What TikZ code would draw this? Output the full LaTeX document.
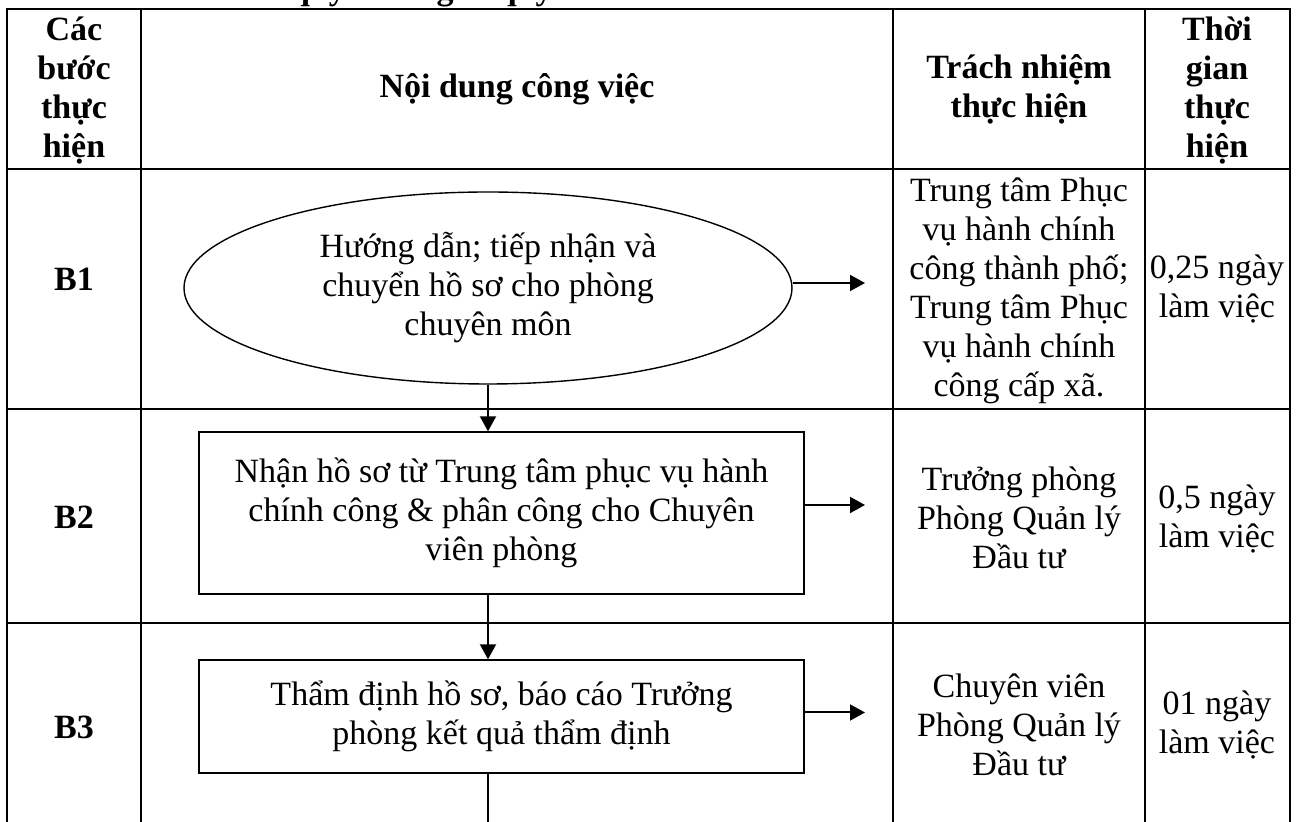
\documentclass[tikz,border=0pt]{standalone}
\usepackage{fontspec}
\setmainfont{Liberation Serif}
\usetikzlibrary{arrows.meta,shapes.geometric}
\begin{document}
\begin{tikzpicture}[x=0.5pt,y=-0.5pt,
  grid/.style={line width=1pt},
  txt/.style={align=center, inner sep=0pt, font=\fontsize{17}{19.5}\selectfont},
  headtxt/.style={align=center, inner sep=0pt, font=\fontsize{17}{19.5}\selectfont\bfseries},
  procbox/.style={draw, line width=0.7pt, rectangle, inner sep=0pt, align=center,
    font=\fontsize{17}{19.5}\selectfont, minimum width=302.5pt},
  startshape/.style={draw, line width=0.7pt, ellipse, inner sep=0pt, align=center,
    font=\fontsize{17}{19.5}\selectfont, minimum width=304pt, minimum height=96pt},
  arr/.style={line width=1pt, -{Triangle[length=7.5pt,width=8pt]}},
  link/.style={line width=1pt}]
\useasboundingbox (0,0) rectangle (1298,822);

% clipped heading (only its lower edge is visible)
\begin{scope}
  \clip (0,0) rectangle (1298,822);
  \node[anchor=base west, inner sep=0pt, font=\fontsize{17}{19.5}\selectfont\bfseries] (title) at (200,-0.5) {Sơ đồ quy trình giải quyết};
\end{scope}

% table grid
\draw[grid] (7,822) -- (7,9) -- (1290,9) -- (1290,822);
\draw[grid] (141,9) -- (141,822);
\draw[grid] (893,9) -- (893,822);
\draw[grid] (1145,9) -- (1145,822);
\draw[grid] (7,169) -- (1290,169);
\draw[grid] (7,409) -- (1290,409);
\draw[grid] (7,623) -- (1290,623);

% header
\node[headtxt] (h1) at (74,91) {Các\\bước\\thực\\hiện};
\node[headtxt] (h2) at (517,89) {Nội dung công việc};
\node[headtxt] (h3) at (1019,89) {Trách nhiệm\\thực hiện};
\node[headtxt] (h4) at (1217,91) {Thời\\gian\\thực\\hiện};

% step labels
\node[headtxt] (s1) at (74,279) {B1};
\node[headtxt] (s2) at (74,517) {B2};
\node[headtxt] (s3) at (74,727) {B3};

% flow shapes
\node[startshape] (e1) at (488,288) {Hướng dẫn; tiếp nhận và\\chuyển hồ sơ cho phòng\\chuyên môn};
\node[procbox, minimum height=81pt] (b2) at (501.5,513) {Nhận hồ sơ từ Trung tâm phục vụ hành\\chính công \& phân công cho Chuyên\\viên phòng};
\node[procbox, minimum height=56.5pt] (b3) at (501.5,716.5) {Thẩm định hồ sơ, báo cáo Trưởng\\phòng kết quả thẩm định};

% responsibility
\node[txt] (r1) at (1019,291) {Trung tâm Phục\\vụ hành chính\\công thành phố;\\Trung tâm Phục\\vụ hành chính\\công cấp xã.};
\node[txt] (r2) at (1019,518) {Trưởng phòng\\Phòng Quản lý\\Đầu tư};
\node[txt] (r3) at (1019,725) {Chuyên viên\\Phòng Quản lý\\Đầu tư};

% time
\node[txt] (t1) at (1217,289) {0,25 ngày\\làm việc};
\node[txt] (t2) at (1217,519) {0,5 ngày\\làm việc};
\node[txt] (t3) at (1217,725) {01 ngày\\làm việc};

% connectors
\coordinate (ax) at (488,0);
\coordinate (rx) at (865,0);
\coordinate (bend) at (488,822);
\draw[arr] (e1.south) -- (b2.north -| ax);
\draw[arr] (b2.south -| ax) -- (b3.north -| ax);
\draw[link] (b3.south -| ax) -- (bend);
\draw[arr] ([yshift=2.5pt]e1.east) -- ([yshift=2.5pt]e1.east -| rx);
\draw[arr] ([yshift=4pt]b2.east) -- ([yshift=4pt]b2.east -| rx);
\draw[arr] ([yshift=2pt]b3.east) -- ([yshift=2pt]b3.east -| rx);
\end{tikzpicture}
\end{document}
